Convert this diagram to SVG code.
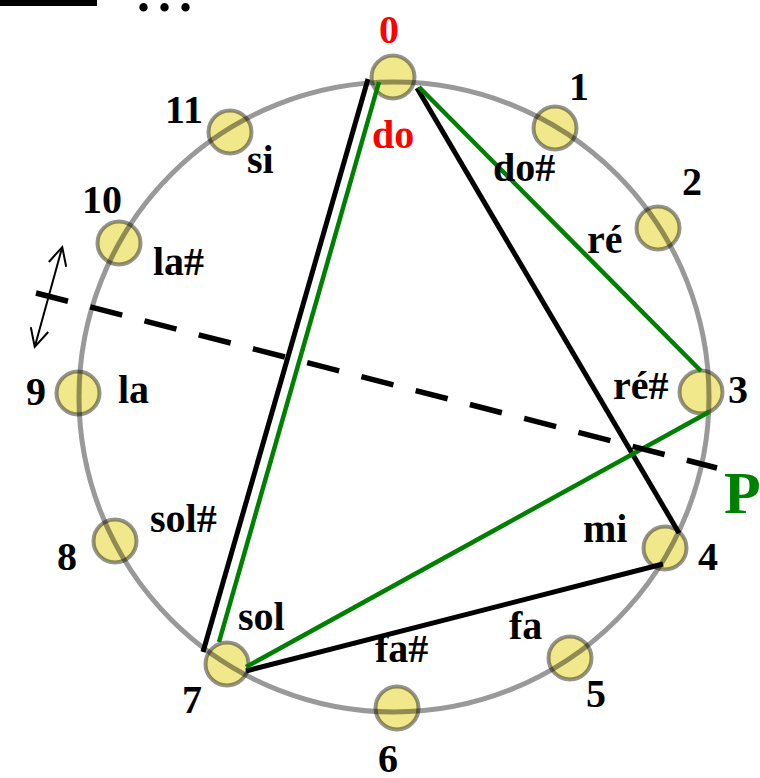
<svg xmlns="http://www.w3.org/2000/svg" width="760" height="778" viewBox="0 0 760 778">
<style>
text{font-family:"Liberation Serif","Times New Roman",serif;font-weight:bold;font-size:40px;fill:#000}
.red{fill:#ff0000}
.mid{text-anchor:middle}
.node{fill:#f0e88a;stroke:#000;stroke-opacity:0.42;stroke-width:4}
.ring{fill:none;stroke:#000;stroke-opacity:0.4;stroke-width:5}
.blk{stroke:#000;stroke-width:5;fill:none}
.grn{stroke:#008000;stroke-width:4.5;fill:none}
.dash{stroke:#000;stroke-width:5.5;stroke-dasharray:33 23;fill:none}
.arr{stroke:#000;stroke-width:2;fill:none}
</style>
<defs>
<marker id="ah" viewBox="-2 -11 22 22" markerWidth="22" markerHeight="22" refX="17" refY="0" markerUnits="userSpaceOnUse" orient="auto-start-reverse">
<path d="M0,-9 L18,0 L0,9" fill="none" stroke="#000" stroke-width="2"/>
</marker>
</defs>
<rect x="0" y="0" width="97" height="6" fill="#000"/>
<text x="137" y="11" style="font-size:52px;letter-spacing:8px">...</text>
<g id="nodes">
<g id="n0"><circle class="node" cx="393" cy="77" r="21.5"/></g>
<g id="n1"><circle class="node" cx="555" cy="128" r="21.5"/></g>
<g id="n2"><circle class="node" cx="658" cy="228" r="21.5"/></g>
<g id="n3"><circle class="node" cx="701" cy="392" r="21.5"/></g>
<g id="n4"><circle class="node" cx="665" cy="548" r="21.5"/></g>
<g id="n5"><circle class="node" cx="570" cy="658" r="21.5"/></g>
<g id="n6"><circle class="node" cx="397" cy="708" r="21.5"/></g>
<g id="n7"><circle class="node" cx="227" cy="664" r="21.5"/></g>
<g id="n8"><circle class="node" cx="115" cy="541" r="21.5"/></g>
<g id="n9"><circle class="node" cx="78" cy="393" r="21.5"/></g>
<g id="n10"><circle class="node" cx="119" cy="243" r="21.5"/></g>
<g id="n11"><circle class="node" cx="230" cy="132" r="21.5"/></g>
</g>
<circle class="ring" cx="394" cy="397" r="315"/>
<g id="connectors">
<line class="blk" x1="368" y1="79" x2="203" y2="652"/>
<line class="blk" x1="417" y1="88" x2="679" y2="533"/>
<line class="blk" x1="663" y1="564" x2="246" y2="671"/>
<line class="grn" x1="379" y1="82" x2="219" y2="642"/>
<line class="grn" x1="419" y1="87" x2="701" y2="371"/>
<line class="grn" x1="709" y1="412" x2="246" y2="667"/>
<line class="dash" x1="36" y1="293" x2="717" y2="468"/>
<line class="arr" x1="62" y1="248" x2="35" y2="346" marker-start="url(#ah)" marker-end="url(#ah)"/>
</g>
<g id="labels">
<text class="red mid" x="389" y="43">0</text>
<text class="red" x="372" y="148">do</text>
<text class="mid" x="579" y="100">1</text>
<text x="493" y="181">do#</text>
<text class="mid" x="692" y="195">2</text>
<text x="587" y="253">ré</text>
<text x="613" y="399">ré#</text>
<text class="mid" x="738" y="403">3</text>
<text x="583" y="542">mi</text>
<text class="mid" x="708" y="570">4</text>
<text x="509" y="639">fa</text>
<text class="mid" x="596" y="707">5</text>
<text x="375" y="662">fa#</text>
<text class="mid" x="388" y="772">6</text>
<text x="238" y="630">sol</text>
<text class="mid" x="192" y="713">7</text>
<text x="150" y="532">sol#</text>
<text class="mid" x="67" y="570">8</text>
<text class="mid" x="36" y="405">9</text>
<text x="118" y="403">la</text>
<text class="mid" x="102" y="213">10</text>
<text x="153" y="275">la#</text>
<text class="mid" x="184" y="123">11</text>
<text x="247" y="173">si</text>
<text x="724" y="513" style="font-size:60px;fill:#008000">P</text>
</g>
</svg>
